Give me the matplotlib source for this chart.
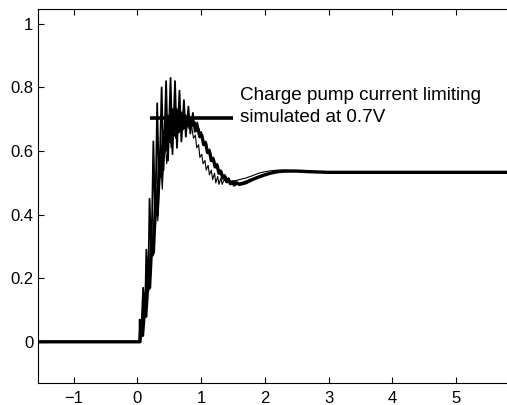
import numpy as np
import matplotlib.pyplot as plt

plt.rcParams['font.family'] = ['Liberation Sans', 'DejaVu Sans']

# thin trace (t, v)
thin_pts = [(-1.56, 0), (0.04, 0), (0.045, 0.04), (0.06, 0.02), (0.09, 0.12), (0.11, 0.08),
            (0.15, 0.22), (0.18, 0.16), (0.22, 0.36), (0.25, 0.27), (0.29, 0.48), (0.32, 0.38),
            (0.36, 0.58), (0.39, 0.48), (0.43, 0.64), (0.46, 0.56), (0.50, 0.67), (0.53, 0.61),
            (0.57, 0.69), (0.60, 0.64), (0.64, 0.70), (0.67, 0.66), (0.71, 0.70), (0.74, 0.67),
            (0.78, 0.69), (0.81, 0.67), (0.85, 0.68), (0.88, 0.64), (0.91, 0.65), (0.93, 0.61),
            (0.96, 0.62), (0.98, 0.58), (1.01, 0.59), (1.03, 0.56), (1.06, 0.57), (1.08, 0.54),
            (1.11, 0.555), (1.13, 0.525), (1.16, 0.54), (1.18, 0.51), (1.21, 0.53), (1.23, 0.50),
            (1.26, 0.52), (1.28, 0.495), (1.31, 0.515), (1.33, 0.495), (1.36, 0.51), (1.40, 0.50),
            (1.5, 0.505), (1.6, 0.51), (1.7, 0.515), (1.8, 0.522), (1.9, 0.53), (2.0, 0.535),
            (2.1, 0.538), (2.2, 0.54), (2.3, 0.54), (2.5, 0.538), (2.7, 0.535), (3.0, 0.533),
            (3.5, 0.532), (4.0, 0.533), (5.0, 0.533), (5.8, 0.533)]

# thick trace (t, v)
thick_pts = [(-1.56, 0), (0.04, 0), (0.05, 0.03), (0.08, 0.02), (0.11, 0.10), (0.13, 0.08),
             (0.17, 0.20), (0.19, 0.17), (0.23, 0.33), (0.25, 0.28), (0.29, 0.46), (0.31, 0.40),
             (0.35, 0.58), (0.37, 0.52), (0.41, 0.66), (0.43, 0.60), (0.47, 0.71), (0.50, 0.63),
             (0.54, 0.73), (0.57, 0.65), (0.61, 0.73), (0.64, 0.66), (0.68, 0.72), (0.71, 0.67),
             (0.75, 0.71), (0.78, 0.68), (0.82, 0.70), (0.85, 0.68), (0.89, 0.69), (0.92, 0.665),
             (0.95, 0.67), (0.98, 0.645), (1.01, 0.65), (1.04, 0.62), (1.07, 0.625), (1.10, 0.595),
             (1.13, 0.60), (1.16, 0.57), (1.19, 0.575), (1.22, 0.55), (1.25, 0.555), (1.28, 0.53),
             (1.31, 0.535), (1.34, 0.515), (1.37, 0.52), (1.40, 0.505), (1.43, 0.51), (1.46, 0.497),
             (1.49, 0.503), (1.52, 0.493), (1.56, 0.50), (1.6, 0.495), (1.7, 0.50), (1.8, 0.51),
             (1.9, 0.518), (2.0, 0.525), (2.1, 0.531), (2.2, 0.535), (2.3, 0.537), (2.5, 0.537),
             (2.7, 0.535), (3.0, 0.533), (4.0, 0.533), (5.8, 0.533)]

# large-ripple trace (t, v)
ripple_pts = [(-1.56, 0), (0.03, 0), (0.035, 0.07), (0.06, 0.03), (0.09, 0.17), (0.12, 0.09),
              (0.14, 0.29), (0.17, 0.17), (0.19, 0.45), (0.22, 0.27), (0.25, 0.63), (0.28, 0.37),
              (0.31, 0.75), (0.34, 0.47), (0.38, 0.80), (0.41, 0.54), (0.45, 0.82), (0.48, 0.57),
              (0.52, 0.83), (0.55, 0.59), (0.59, 0.82), (0.62, 0.61), (0.66, 0.79), (0.69, 0.63),
              (0.73, 0.76), (0.76, 0.645), (0.80, 0.74), (0.83, 0.655), (0.87, 0.72), (0.90, 0.66),
              (0.94, 0.69), (0.97, 0.655), (1.0, 0.66), (1.04, 0.625), (1.07, 0.63), (1.10, 0.60),
              (1.13, 0.605), (1.16, 0.575), (1.19, 0.58), (1.22, 0.555), (1.25, 0.56), (1.28, 0.535),
              (1.31, 0.54), (1.34, 0.52), (1.37, 0.525), (1.40, 0.51), (1.43, 0.515), (1.46, 0.50),
              (1.5, 0.505), (1.6, 0.497), (1.8, 0.512), (2.0, 0.527), (2.2, 0.536), (2.5, 0.537),
              (3.0, 0.533), (5.8, 0.533)]

limit_t = [0.19, 1.50]
limit_v = [0.705, 0.705]

xticks = [-1, 0, 1, 2, 3, 4, 5]
yticks = [0, 0.2, 0.4, 0.6, 0.8, 1]
ytick_labels = ['0', '0.2', '0.4', '0.6', '0.8', '1']

fig = plt.figure(figsize=(5.07, 4.05), dpi=100)
ax = fig.add_axes([0.075, 0.054, 0.93, 0.924])

for pts, lw in [(thin_pts, 0.8), (ripple_pts, 1.3), (thick_pts, 2.4)]:
    a = np.array(pts)
    ax.plot(a[:, 0], a[:, 1], color='black', lw=lw)

ax.plot(limit_t, limit_v, color='black', lw=2.6, solid_capstyle='butt')

ax.text(1.61, 0.76, 'Charge pump current limiting', fontsize=13.6)
ax.text(1.61, 0.692, 'simulated at 0.7V', fontsize=13.6)

ax.set_xlim(-1.56, 5.84)
ax.set_ylim(-0.13, 1.047)
ax.set_xticks(xticks)
ax.set_xticklabels(['\u2212' + str(-v) if v < 0 else str(v) for v in xticks])
ax.set_yticks(yticks)
ax.set_yticklabels(ytick_labels)
ax.tick_params(direction='in', length=4, width=0.8, top=True, labelsize=12)
ax.tick_params(axis='x', pad=6)
ax.spines['right'].set_visible(False)
for s in ['left', 'bottom', 'top']:
    ax.spines[s].set_linewidth(0.8)

fig.savefig('out.png', dpi=100)
